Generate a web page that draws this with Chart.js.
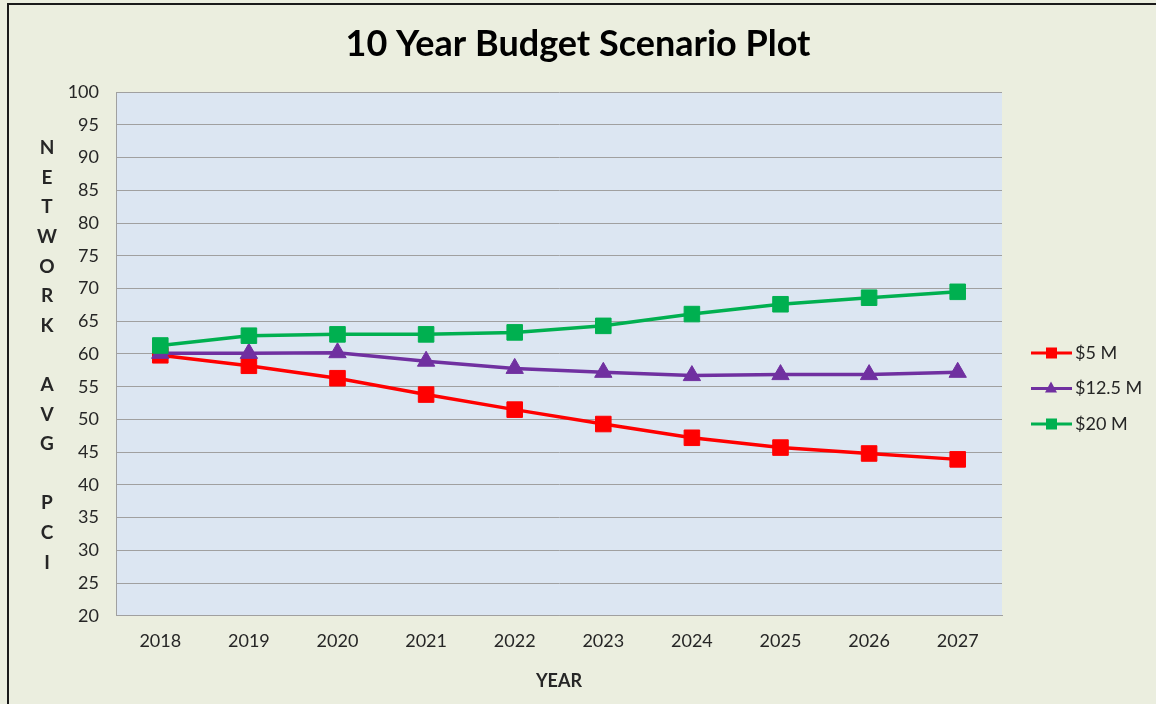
<!DOCTYPE html>
<html>
<head>
<meta charset="utf-8">
<title>10 Year Budget Scenario Plot</title>
<script src="https://cdn.jsdelivr.net/npm/chart.js@4.4.1/dist/chart.umd.min.js"></script>
<style>
  html, body { margin: 0; padding: 0; background: #ebeedf; }
  #wrap { position: relative; width: 1156px; height: 704px; }
</style>
</head>
<body>
<div id="wrap"><canvas id="chart" width="1156" height="704"></canvas></div>
<script>
// DATA
// =============================================================================
const years = ['2018', '2019', '2020', '2021', '2022', '2023', '2024', '2025', '2026', '2027'];
const budget5M = [59.8, 58.2, 56.3, 53.8, 51.5, 49.3, 47.2, 45.7, 44.8, 43.9];
const budget12_5M = [60.1, 60.1, 60.2, 58.9, 57.8, 57.2, 56.7, 56.85, 56.85, 57.2];
const budget20M = [61.3, 62.8, 63.0, 63.0, 63.3, 64.3, 66.1, 67.6, 68.6, 69.5];
const seriesNames = ['$5 M', '$12.5 M', '$20 M'];
const yTitle = ['N', 'E', 'T', 'W', 'O', 'R', 'K', '', 'A', 'V', 'G', '', 'P', 'C', 'I'];

const FONT = 'Lato, "Open Sans", sans-serif';
const TEXT = '#262626';

// PLUGINS
// =============================================================================

// page background, outer frame and plot area fill
const backdrop = {
  id: 'backdrop',
  beforeDraw(chart) {
    const { ctx, chartArea: a } = chart;
    ctx.save();
    ctx.fillStyle = '#ebeedf';
    ctx.fillRect(0, 0, chart.width, chart.height);
    ctx.fillStyle = '#dce6f2';
    ctx.fillRect(a.left, a.top, a.right - a.left, a.bottom - a.top);
    ctx.strokeStyle = '#1a1a1a';
    ctx.lineWidth = 2;
    ctx.beginPath();
    ctx.moveTo(8, chart.height);
    ctx.lineTo(8, 4);
    ctx.lineTo(chart.width, 4);
    ctx.stroke();
    ctx.restore();
  }
};

// stacked y-axis caption, one letter per row
const stackedTitle = {
  id: 'stackedTitle',
  afterDraw(chart) {
    const { ctx } = chart;
    ctx.save();
    ctx.font = 'bold 19px ' + FONT;
    ctx.fillStyle = TEXT;
    ctx.textAlign = 'center';
    ctx.textBaseline = 'middle';
    yTitle.forEach((ch, i) => ctx.fillText(ch, 47, 148 + i * 29.6));
    ctx.restore();
  }
};

// legend with line + marker samples, on the right
const sideLegend = {
  id: 'sideLegend',
  afterDraw(chart) {
    const { ctx } = chart;
    ctx.save();
    chart.data.datasets.forEach((ds, i) => {
      const y = 353 + i * 35.5;
      ctx.strokeStyle = ds.borderColor;
      ctx.lineWidth = 3;
      ctx.beginPath();
      ctx.moveTo(1031, y);
      ctx.lineTo(1072, y);
      ctx.stroke();
      ctx.fillStyle = ds.borderColor;
      if (ds.pointStyle === 'triangle') {
        ctx.beginPath();
        ctx.moveTo(1051, y - 7);
        ctx.lineTo(1057, y + 4);
        ctx.lineTo(1045, y + 4);
        ctx.closePath();
        ctx.fill();
      } else {
        ctx.fillRect(1046, y - 5.5, 11, 11);
      }
      ctx.fillStyle = TEXT;
      ctx.font = '18px ' + FONT;
      ctx.textAlign = 'left';
      ctx.textBaseline = 'middle';
      ctx.fillText(ds.label, 1075, y);
    });
    ctx.restore();
  }
};

// CHART
// =============================================================================
// later series are drawn on top, as in the original
const makeSeries = (label, data, color, style, radius, order) => ({
  label: label,
  data: data,
  borderColor: color,
  backgroundColor: color,
  borderWidth: 3.5,
  pointStyle: style,
  pointRadius: radius,
  pointHoverRadius: radius,
  pointBorderWidth: 1,
  tension: 0,
  order: order
});

new Chart(document.getElementById('chart'), {
  type: 'line',
  data: {
    labels: years,
    datasets: [
      makeSeries(seriesNames[0], budget5M, '#ff0000', 'rect', 11, 3),
      makeSeries(seriesNames[1], budget12_5M, '#7030a0', 'triangle', 10, 2),
      makeSeries(seriesNames[2], budget20M, '#00b050', 'rect', 11, 1)
    ]
  },
  options: {
    responsive: false,
    animation: false,
    plugins: {
      legend: { display: false },
      tooltip: { enabled: false },
      title: {
        display: true,
        text: '10 Year Budget Scenario Plot',
        color: '#000',
        font: { family: FONT, size: 36, weight: 'bold' },
        padding: { top: 23, bottom: 26 }
      }
    },
    scales: {
      x: {
        offset: true,
        grid: { display: false, drawTicks: false },
        border: { display: true, color: '#a0a0a0', width: 1 },
        ticks: { color: TEXT, font: { family: FONT, size: 18 }, padding: 15 },
        title: {
          display: true,
          text: 'YEAR',
          color: TEXT,
          font: { family: FONT, size: 18, weight: 'bold' },
          padding: { top: 3, bottom: 12 }
        }
      },
      y: {
        min: 20,
        max: 100,
        afterFit(scale) { scale.width = 116; },
        grid: { color: '#a0a0a0', lineWidth: 1, drawTicks: false },
        border: { display: true, color: '#a0a0a0', width: 1 },
        ticks: { stepSize: 5, color: TEXT, font: { family: FONT, size: 18 }, padding: 17 }
      },
      // empty right-hand box that reserves room for the legend
      legendSpace: {
        type: 'linear',
        position: 'right',
        afterFit(scale) { scale.width = 154; },
        grid: { display: false },
        border: { display: false },
        ticks: { display: false }
      }
    }
  },
  plugins: [backdrop, stackedTitle, sideLegend]
});
</script>
</body>
</html>
